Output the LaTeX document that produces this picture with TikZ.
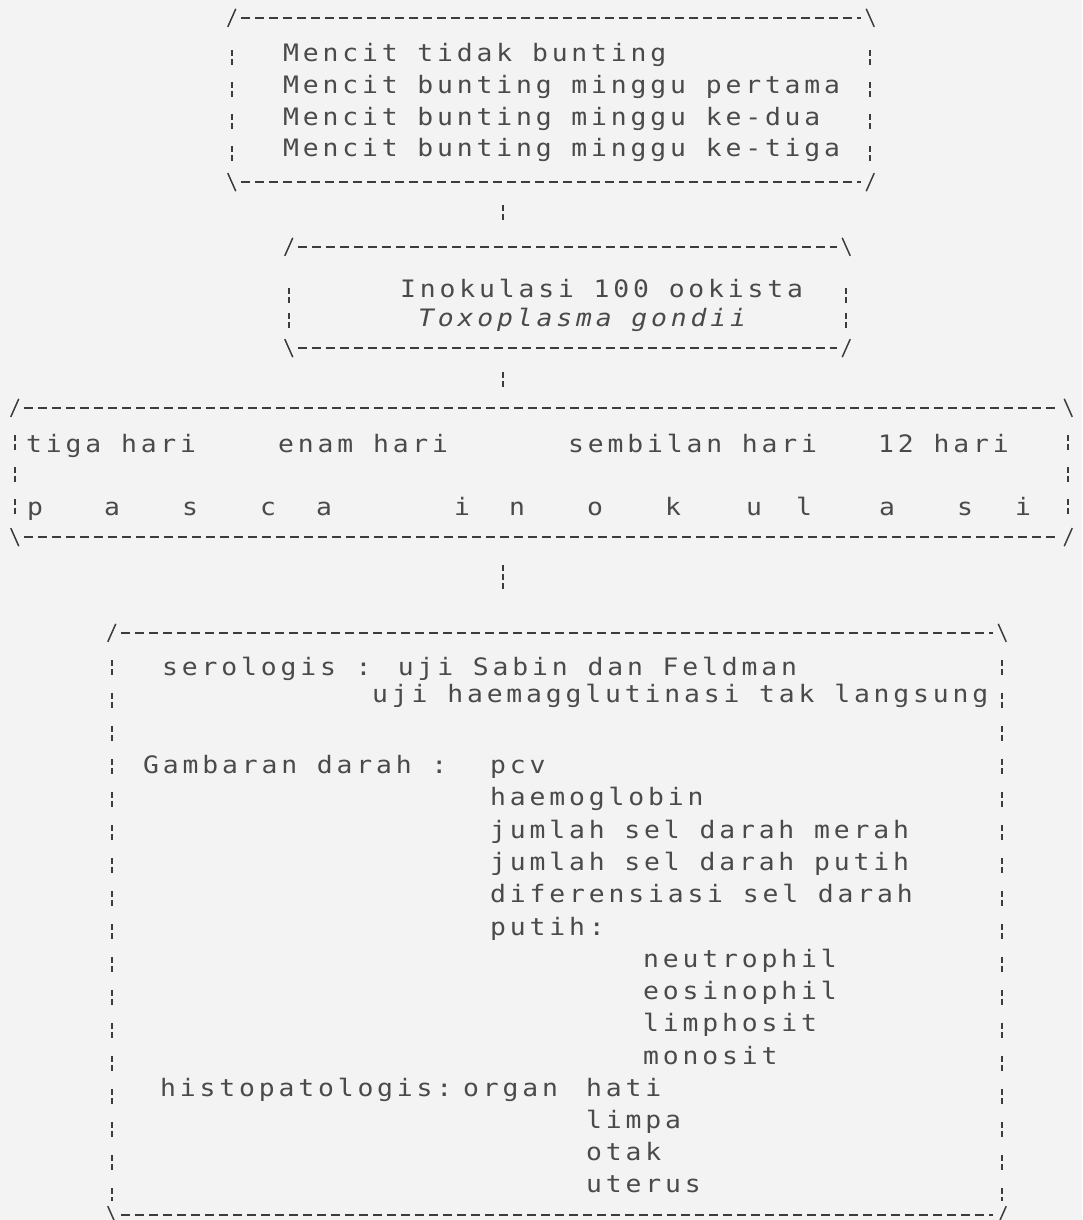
\documentclass[tikz,border=0pt]{standalone}
\usepackage{fontspec}
\newfontfamily\dmfont[LetterSpace=16,FakeStretch=1.1]{DejaVu Sans Mono}
\definecolor{ink}{HTML}{4A4A4A}
\definecolor{rule}{HTML}{3C3C3C}
\definecolor{paper}{HTML}{F3F3F3}
\tikzset{
  txt/.style={anchor=base west, inner sep=0pt, font=\dmfont\fontsize{24}{28}\selectfont, text=ink},
  boxnode/.style={draw=none, inner sep=0pt, rectangle},
  hedge/.style={draw=rule, line width=1.6pt, dash pattern=on 9pt off 5pt},
  corner/.style={draw=rule, line width=1.5pt},
  conn/.style={draw=rule, line width=1.6pt, dash pattern=on 6pt off 3pt}
}
% #1 node, #2 first-mark offset from top, #3 gap after a broken bar
\newcommand\mybox[3]{%
  \draw[hedge] ([xshift=9pt]#1.north west) -- ([xshift=-9pt]#1.north east);
  \draw[hedge] ([xshift=9pt]#1.south west) -- ([xshift=-9pt]#1.south east);
  \draw[draw=rule, line width=1.6pt, dash pattern=on 6pt off 3pt on 6pt off #3pt]
    ([yshift=-#2pt]#1.north west) -- ([yshift=14pt]#1.south west);
  \draw[draw=rule, line width=1.6pt, dash pattern=on 6pt off 3pt on 6pt off #3pt]
    ([yshift=-#2pt]#1.north east) -- ([yshift=14pt]#1.south east);
  \draw[corner] ([xshift=-4pt,yshift=-9pt]#1.north west) -- ([xshift=4pt,yshift=9pt]#1.north west);
  \draw[corner] ([xshift=-4pt,yshift=9pt]#1.north east) -- ([xshift=4pt,yshift=-9pt]#1.north east);
  \draw[corner] ([xshift=-4pt,yshift=9pt]#1.south west) -- ([xshift=4pt,yshift=-9pt]#1.south west);
  \draw[corner] ([xshift=-4pt,yshift=-9pt]#1.south east) -- ([xshift=4pt,yshift=9pt]#1.south east);
}
\begin{document}
\begin{tikzpicture}[x=1pt,y=-1pt]
\fill[paper] (0,0) rectangle (1082,1220);
\useasboundingbox (0,0) rectangle (1082,1220);

% boxes
\node[boxnode, minimum width=638pt, minimum height=164pt] (b1) at (551,100) {};
\node[boxnode, minimum width=557pt, minimum height=101pt] (b2) at (567.5,297.5) {};
\node[boxnode, minimum width=1053pt, minimum height=129pt] (b3) at (541.5,472.5) {};
\node[boxnode, minimum width=890pt, minimum height=582pt] (b4) at (557,924) {};
\mybox{b1}{32}{17}
\mybox{b2}{41}{10}
\mybox{b3}{27}{17}
\mybox{b4}{27}{18}

% connectors
\coordinate (cx) at (503,0);
\draw[conn, shorten <=23pt, shorten >=24pt] (b1.south -| cx) -- (b2.north -| cx);
\draw[conn, shorten <=24pt, shorten >=18pt] (b2.south -| cx) -- (b3.north -| cx);
\draw[conn, shorten <=28pt, shorten >=41pt] (b3.south -| cx) -- (b4.north -| cx);

% box 1
\node[txt] (t11) at (283,62) {Mencit tidak bunting};
\node[txt] (t12) at (283,94) {Mencit bunting minggu pertama};
\node[txt] (t13) at (283,126) {Mencit bunting minggu ke-dua};
\node[txt] (t14) at (283,157) {Mencit bunting minggu ke-tiga};

% box 2
\node[txt] (t21) at (400,297) {Inokulasi 100 ookista};
\node[txt] (t22) at (418,326) {\itshape Toxoplasma gondii};

% box 3
\node[txt] (t31) at (26,452) {tiga hari};
\node[txt] (t32) at (278,452) {enam hari};
\node[txt] (t33) at (568,452) {sembilan hari};
\node[txt] (t34) at (878,452) {12 hari};
\foreach \ch/\xx [count=\k] in {p/27,a/104,s/182,c/260,a/316,i/454,n/509,o/587,k/665,u/746,l/796,a/879,s/957,i/1015}
  \node[txt] (pi\k) at (\xx,515) {\ch};

% box 4
\node[txt] (s1) at (162,675) {serologis : uji Sabin dan Feldman};
\node[txt] (s2) at (372,702) {uji haemagglutinasi tak langsung};
\node[txt] (g0) at (143,773) {Gambaran darah :};
\node[txt] (g1) at (490,773) {pcv};
\node[txt] (g2) at (490,805) {haemoglobin};
\node[txt] (g3) at (490,838) {jumlah sel darah merah};
\node[txt] (g4) at (490,870) {jumlah sel darah putih};
\node[txt] (g5) at (490,902) {diferensiasi sel darah};
\node[txt] (g6) at (490,935) {putih:};
\node[txt] (w1) at (643,967) {neutrophil};
\node[txt] (w2) at (643,999) {eosinophil};
\node[txt] (w3) at (643,1031) {limphosit};
\node[txt] (w4) at (643,1064) {monosit};
\node[txt] (h0) at (160,1096) {histopatologis:};
\node[txt] (ho) at (463,1096) {organ};
\node[txt] (h1) at (586,1096) {hati};
\node[txt] (h2) at (586,1128) {limpa};
\node[txt] (h3) at (586,1160) {otak};
\node[txt] (h4) at (586,1192) {uterus};
\end{tikzpicture}
\end{document}
